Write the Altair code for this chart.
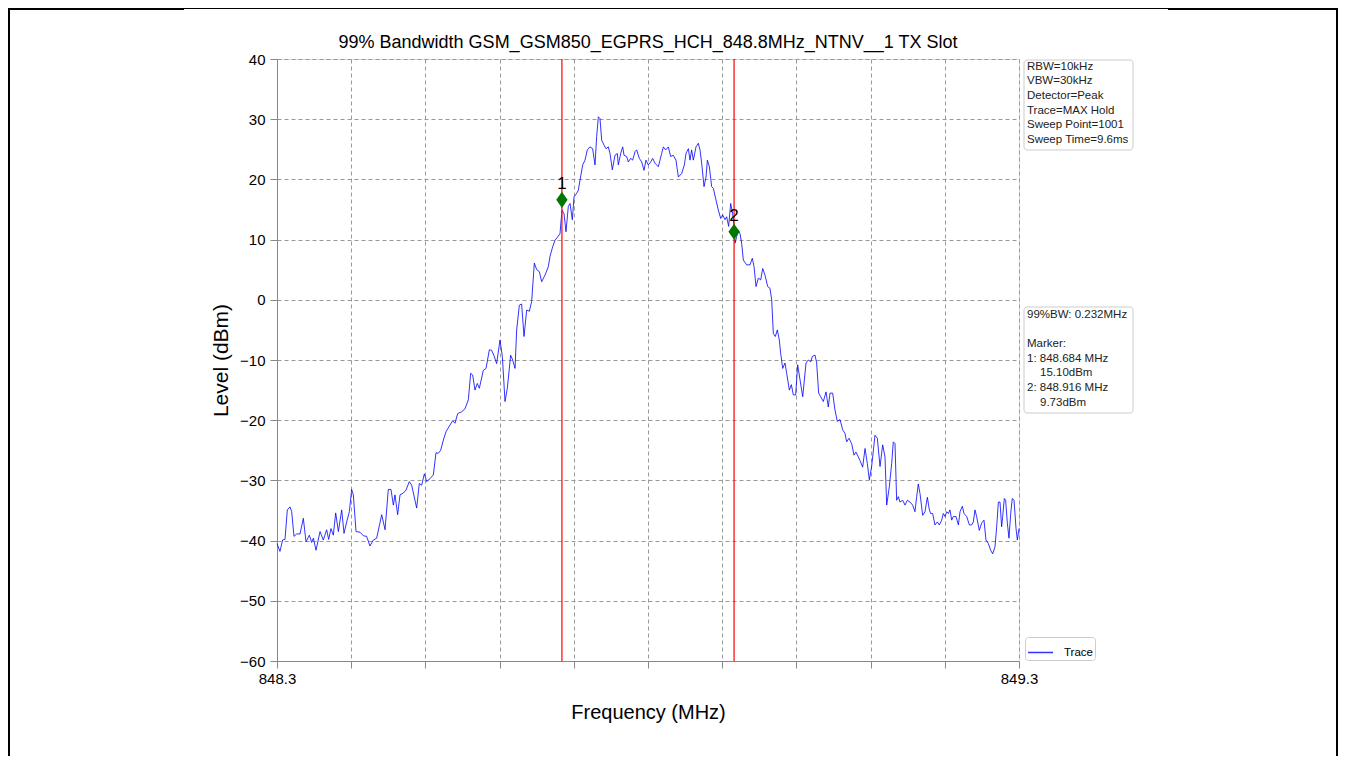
import altair as alt
import pandas as pd

TITLE = "99% Bandwidth GSM_GSM850_EGPRS_HCH_848.8MHz_NTNV__1 TX Slot"
F_START = 848.3
F_STOP = 849.3
Y_MIN, Y_MAX = -60, 40

# trace: frequency offset from 848.3 MHz (MHz) and level (dBm)
trace_offset_mhz = [
    0.0000, 0.0040, 0.0076, 0.0108, 0.0139, 0.0175, 0.0198, 0.0229, 0.0265, 0.0310,
    0.0355, 0.0391, 0.0436, 0.0467, 0.0490, 0.0526, 0.0580, 0.0624, 0.0669, 0.0696,
    0.0728, 0.0759, 0.0791, 0.0827, 0.0872, 0.0903, 0.0939, 0.0975, 0.1006, 0.1029,
    0.1065, 0.1119, 0.1164, 0.1208, 0.1253, 0.1298, 0.1343, 0.1411, 0.1456, 0.1500,
    0.1536, 0.1568, 0.1590, 0.1626, 0.1658, 0.1703, 0.1739, 0.1783, 0.1815, 0.1882,
    0.1918, 0.1950, 0.1986, 0.2017, 0.2062, 0.2107, 0.2143, 0.2174, 0.2206, 0.2242,
    0.2278, 0.2332, 0.2367, 0.2399, 0.2435, 0.2489, 0.2534, 0.2579, 0.2610, 0.2637,
    0.2668, 0.2700, 0.2727, 0.2781, 0.2817, 0.2862, 0.2893, 0.2925, 0.2960, 0.3005,
    0.3037, 0.3073, 0.3104, 0.3149, 0.3176, 0.3208, 0.3230,
    0.3266, 0.3297, 0.3329, 0.3365, 0.3401, 0.3432, 0.3468, 0.3500, 0.3535, 0.3567,
    0.3612, 0.3657, 0.3679, 0.3715, 0.3747, 0.3792, 0.3814, 0.3841, 0.3868, 0.3895,
    0.3926, 0.3949, 0.3980, 0.4003, 0.4039, 0.4061, 0.4084, 0.4120, 0.4151, 0.4182,
    0.4218, 0.4254, 0.4286, 0.4308, 0.4331, 0.4353, 0.4376, 0.4407, 0.4434, 0.4465,
    0.4488, 0.4519, 0.4555, 0.4587, 0.4600, 0.4632, 0.4659, 0.4677, 0.4712, 0.4735,
    0.4766, 0.4793, 0.4825, 0.4847, 0.4883, 0.4915, 0.4946, 0.4973, 0.5004, 0.5036,
    0.5063, 0.5094, 0.5139, 0.5184, 0.5207, 0.5238, 0.5274, 0.5305, 0.5341, 0.5377,
    0.5409, 0.5454, 0.5490, 0.5512, 0.5544, 0.5566, 0.5588, 0.5611, 0.5647, 0.5678,
    0.5701, 0.5723, 0.5755, 0.5782, 0.5800, 0.5827, 0.5858, 0.5881, 0.5916, 0.5948,
    0.5980, 0.6006, 0.6038, 0.6060, 0.6087, 0.6114, 0.6141, 0.6159, 0.6173, 0.6195,
    0.6217, 0.6240,
    0.6262, 0.6285, 0.6330, 0.6375, 0.6406, 0.6429, 0.6456, 0.6487, 0.6519, 0.6546,
    0.6577, 0.6613, 0.6644, 0.6667, 0.6689, 0.6716, 0.6743, 0.6770, 0.6788, 0.6815,
    0.6846, 0.6869, 0.6905, 0.6932, 0.6959, 0.6990, 0.7017, 0.7049, 0.7085, 0.7130,
    0.7161, 0.7193, 0.7215, 0.7251, 0.7273, 0.7300, 0.7327, 0.7363, 0.7399, 0.7430,
    0.7453, 0.7489, 0.7520, 0.7552, 0.7588, 0.7624, 0.7655, 0.7677, 0.7709, 0.7745,
    0.7776, 0.7803, 0.7835, 0.7857, 0.7893, 0.7925, 0.7956,
    0.7983, 0.8014, 0.8059, 0.8091, 0.8127, 0.8163, 0.8194, 0.8217, 0.8253, 0.8284,
    0.8306, 0.8329, 0.8351, 0.8374, 0.8396, 0.8432, 0.8464, 0.8495, 0.8531, 0.8567,
    0.8598, 0.8621, 0.8643, 0.8666, 0.8702, 0.8733, 0.8765, 0.8792, 0.8810, 0.8836,
    0.8868, 0.8899, 0.8926, 0.8958, 0.8980, 0.9003, 0.9025, 0.9048, 0.9070, 0.9093,
    0.9115, 0.9151, 0.9183, 0.9205, 0.9236, 0.9259, 0.9295, 0.9331, 0.9362, 0.9384,
    0.9407, 0.9429, 0.9465, 0.9497, 0.9528, 0.9555, 0.9587, 0.9618, 0.9645, 0.9677,
    0.9699, 0.9722, 0.9744, 0.9766, 0.9780, 0.9802, 0.9820, 0.9843, 0.9865, 0.9888,
    0.9910, 0.9933, 0.9960, 0.9978, 1.0000,
]
trace_level_dbm = [
    -40.5, -41.8, -39.9, -39.8, -34.9, -34.4, -35.2, -39.3, -38.9, -38.9,
    -36.3, -40.2, -39.1, -40.3, -39.6, -41.6, -38.5, -39.9, -38.2, -39.8,
    -38.0, -39.1, -35.4, -38.5, -34.9, -38.8, -36.9, -35.2, -31.5, -32.4,
    -38.5, -38.6, -39.2, -39.3, -40.9, -39.9, -39.6, -35.7, -38.2, -31.5,
    -31.5, -34.1, -32.4, -35.7, -32.4, -32.1, -31.6, -30.2, -30.8, -34.6,
    -30.5, -30.8, -28.9, -30.2, -29.7, -29.1, -25.4, -25.5, -25.0, -23.3,
    -21.9, -20.8, -20.1, -20.5, -18.9, -18.6, -18.1, -16.6, -12.2, -12.5,
    -15.0, -13.9, -14.7, -11.7, -11.4, -8.3, -8.4, -9.3, -10.6, -6.7,
    -9.4, -16.9, -14.7, -9.2, -10.0, -11.4, -5.0,
    -0.9, -0.7, -6.1, -1.7, -1.9, -0.3, 6.1, 5.0, 4.7, 3.0,
    4.1, 5.5, 7.2, 8.8, 9.9, 10.6, 11.0, 14.9, 14.3, 11.3,
    15.5, 16.0, 13.3, 17.1, 17.7, 18.2, 19.9, 22.4, 23.2, 24.9,
    25.4, 25.1, 22.4, 27.1, 30.4, 30.1, 26.5, 25.7, 25.1, 25.4,
    24.3, 21.6, 24.0, 24.3, 22.4, 24.3, 25.4, 24.0, 23.8, 22.9,
    23.5, 23.2, 24.6, 24.9, 23.5, 22.9, 21.5, 23.2, 22.4, 22.9,
    23.5, 22.7, 22.1, 24.3, 25.4, 24.9, 25.4, 23.8, 24.0, 23.2,
    20.4, 21.0, 22.4, 24.3, 25.1, 23.2, 24.9, 23.2, 25.4, 26.0,
    24.9, 22.7, 18.8, 20.4, 23.2, 22.1, 18.8, 18.5, 16.6, 14.9,
    13.5, 14.1, 13.3, 13.8, 12.2, 16.0, 14.3, 12.2, 9.4, 10.5,
    11.6, 11.0,
    9.4, 6.6, 5.8, 5.8, 6.9, 5.5, 2.2, 3.6, 3.3, 5.2,
    4.1, 2.2, 1.9, 0.0, -5.6, -6.1, -5.0, -6.7, -8.9, -11.4,
    -10.5, -12.2, -15.0, -14.1, -15.8, -15.8, -10.8, -13.3, -16.1, -10.5,
    -10.0, -10.3, -9.4, -9.2, -10.5, -15.5, -16.1, -16.9, -15.3, -17.8,
    -15.5, -15.5, -18.3, -20.2, -19.9, -21.6, -22.2, -23.6, -23.0, -23.9,
    -25.8, -25.3, -26.1, -26.7, -27.8, -24.7, -27.2,
    -29.9, -27.7, -22.5, -23.0, -27.7, -24.1, -26.1, -34.1, -31.0, -27.2,
    -23.6, -23.9, -33.3, -32.7, -33.6, -33.3, -34.1, -33.3, -33.6, -34.1,
    -35.2, -32.7, -30.6, -32.2, -35.8, -35.2, -32.8, -34.9, -35.5, -35.5,
    -37.4, -36.9, -37.4, -36.6, -35.5, -36.0, -35.2, -35.5, -34.9, -36.6,
    -36.0, -36.0, -37.4, -35.2, -34.3, -35.5, -36.0, -37.4, -37.4, -36.9,
    -34.9, -36.0, -38.3, -37.1, -36.6, -39.9, -40.5, -41.6, -42.2, -41.0,
    -37.7, -33.6, -33.6, -37.7, -36.0, -33.0, -33.3, -37.1, -39.6, -35.5,
    -33.0, -33.3, -38.0, -39.9, -38.0,
]

marker_ids = ["1", "2"]
marker_freq_mhz = [848.684, 848.916]
marker_level_dbm = [16.6, 11.3]

settings_lines = ["RBW=10kHz", "VBW=30kHz", "Detector=Peak", "Trace=MAX Hold",
                  "Sweep Point=1001", "Sweep Time=9.6ms"]
# (text, row, indented)
result_lines = [("99%BW: 0.232MHz", 0, False), ("Marker:", 2, False),
                ("1: 848.684 MHz", 3, False), ("15.10dBm", 4, True),
                ("2: 848.916 MHz", 5, False), ("9.73dBm", 6, True)]

x_tick_values = [round(F_START + 0.1 * i, 1) for i in range(11)]
y_tick_values = list(range(Y_MIN, Y_MAX + 1, 10))

FONT = "Liberation Sans"
W, H = 742, 602
PAD = {"left": 269, "top": 51, "right": 319, "bottom": 95}
LINE_H = 14.6
GRID = dict(grid=True, gridColor="#999999", gridDash=[4, 3], gridWidth=1)

trace_df = pd.DataFrame({
    "freq": [round(F_START + o, 5) for o in trace_offset_mhz],
    "level": trace_level_dbm,
    "series": ["Trace"] * len(trace_offset_mhz),
})
marker_df = pd.DataFrame({"id": marker_ids, "freq": marker_freq_mhz, "level": marker_level_dbm})
one = pd.DataFrame({"k": [0]})

x_scale = alt.Scale(domain=[F_START, F_STOP], nice=False, zero=False)
y_scale = alt.Scale(domain=[Y_MIN, Y_MAX], nice=False, zero=False)

x_axis = alt.Axis(
    title="Frequency (MHz)", values=x_tick_values,
    labelExpr="(datum.value < 848.31 || datum.value > 849.29) ? format(datum.value, '.1f') : ''",
    labelFlush=False, labelOverlap=False, labelFontSize=15, labelPadding=3,
    tickSize=7, titleFontSize=20, titleFontWeight="normal",
    titleY=51, titleBaseline="middle", **GRID,
)
y_axis = alt.Axis(
    title="Level (dBm)", values=y_tick_values, labelFontSize=15, labelPadding=5,
    tickSize=7, titleFontSize=21, titleFontWeight="normal",
    titleX=-56, titleY=H / 2, titleBaseline="middle", titleAngle=-90, **GRID,
)

trace = alt.Chart(trace_df).mark_line(strokeWidth=1, opacity=0.8).encode(
    x=alt.X("freq:Q", scale=x_scale, axis=x_axis),
    y=alt.Y("level:Q", scale=y_scale, axis=y_axis),
    color=alt.Color(
        "series:N",
        scale=alt.Scale(domain=["Trace"], range=["#0000ff"]),
        legend=alt.Legend(
            title=None, orient="none", legendX=748, legendY=578,
            symbolType="stroke", symbolSize=625, symbolStrokeWidth=1.5,
            labelFontSize=11.5, labelFont=FONT, labelOffset=10,
            padding=2, strokeColor="#cccccc", fillColor="white", cornerRadius=3,
        ),
    ),
)

rules = alt.Chart(marker_df).mark_rule(color="red", strokeWidth=1.2).encode(
    x=alt.X("freq:Q", scale=x_scale)
)

points = alt.Chart(marker_df).mark_point(
    shape="M0,-1L0.7,0L0,1L-0.7,0Z", filled=True, color="#007700", size=260, opacity=1
).encode(x=alt.X("freq:Q", scale=x_scale), y=alt.Y("level:Q", scale=y_scale))

labels = alt.Chart(marker_df).mark_text(
    dy=-16, fontSize=17, font=FONT, color="black", baseline="middle"
).encode(x=alt.X("freq:Q", scale=x_scale), y=alt.Y("level:Q", scale=y_scale), text="id:N")

title = alt.Chart(one).mark_text(
    fontSize=18, font=FONT, color="black", align="center", baseline="alphabetic"
).encode(x=alt.value(W / 2), y=alt.value(-10.7), text=alt.value(TITLE))

BOX_X0, BOX_X1 = 747, 856
TEXT_X = 750

box1 = alt.Chart(one).mark_rect(
    fill="white", stroke="#cccccc", strokeWidth=1, cornerRadius=3
).encode(x=alt.value(BOX_X0), x2=alt.value(BOX_X1), y=alt.value(1), y2=alt.value(91))
box2 = alt.Chart(one).mark_rect(
    fill="white", stroke="#cccccc", strokeWidth=1, cornerRadius=3
).encode(x=alt.value(BOX_X0), x2=alt.value(BOX_X1), y=alt.value(248), y2=alt.value(354))

text_layers = []
for i, line in enumerate(settings_lines):
    text_layers.append(alt.Chart(one).mark_text(
        align="left", baseline="middle", fontSize=11.5, font=FONT, color="#222222"
    ).encode(x=alt.value(TEXT_X), y=alt.value(7.7 + LINE_H * i), text=alt.value(line)))
for line, row, indented in result_lines:
    text_layers.append(alt.Chart(one).mark_text(
        align="left", baseline="middle", fontSize=11.5, font=FONT, color="#222222"
    ).encode(x=alt.value(TEXT_X + (13 if indented else 0)),
             y=alt.value(256 + LINE_H * row), text=alt.value(line)))

# page frame around the figure
L0 = -PAD["left"]
T0 = -PAD["top"]
frame_top_thin = alt.Chart(one).mark_rule(color="black", strokeWidth=1).encode(
    x=alt.value(L0), x2=alt.value(L0 + 1330), y=alt.value(T0 + 0.5))
frame_top_left = alt.Chart(one).mark_rule(color="black", strokeWidth=2).encode(
    x=alt.value(L0), x2=alt.value(L0 + 176), y=alt.value(T0 + 1))
frame_top_right = alt.Chart(one).mark_rule(color="black", strokeWidth=2).encode(
    x=alt.value(L0 + 1160), x2=alt.value(L0 + 1330), y=alt.value(T0 + 1))
frame_left = alt.Chart(one).mark_rule(color="black", strokeWidth=2).encode(
    x=alt.value(L0 + 1), y=alt.value(T0), y2=alt.value(T0 + 760))
frame_right = alt.Chart(one).mark_rule(color="black", strokeWidth=2).encode(
    x=alt.value(L0 + 1329), y=alt.value(T0), y2=alt.value(T0 + 760))

chart = alt.layer(
    trace, rules, points, labels, title, box1, box2, *text_layers,
    frame_top_thin, frame_top_left, frame_top_right, frame_left, frame_right,
).properties(
    width=W, height=H,
    autosize=alt.AutoSizeParams(type="none"),
    padding=PAD,
).configure_axis(
    labelFont=FONT, titleFont=FONT, labelColor="black", titleColor="black",
    domainColor="black", domainWidth=1.5, tickColor="black", tickWidth=1.2,
).configure_view(
    stroke="black", strokeWidth=1.5,
).configure(background="white")

chart.save("out.html", embed_options={"renderer": "svg", "actions": False})
